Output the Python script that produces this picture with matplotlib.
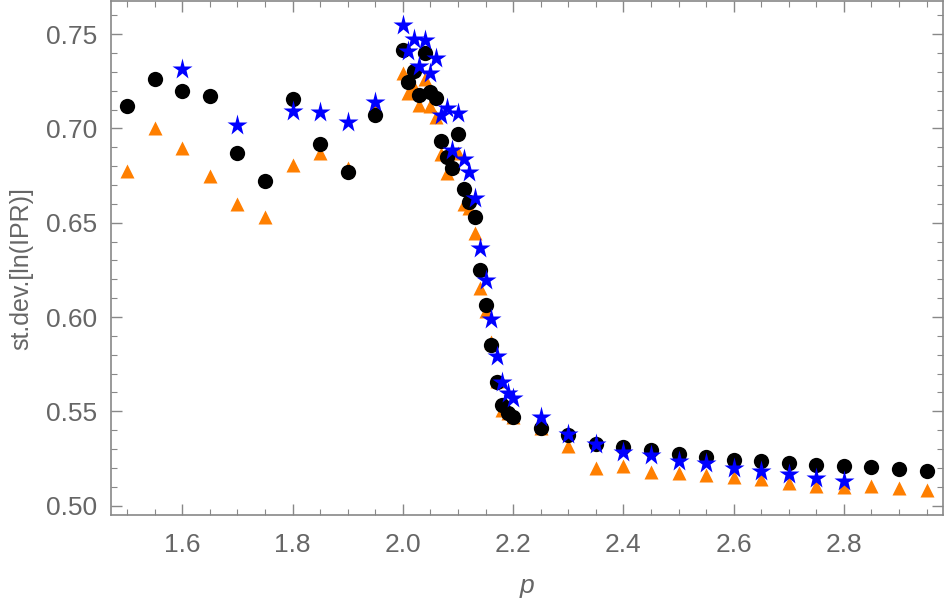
import numpy as np
import matplotlib
matplotlib.use("Agg")
import matplotlib.pyplot as plt
from matplotlib.ticker import MultipleLocator

plt.rcParams['font.family'] = ['Liberation Sans', 'DejaVu Sans']

# coarse grid + fine grid near the transition
p_lo = [1.50, 1.55, 1.60, 1.65, 1.70, 1.75, 1.80, 1.85, 1.90, 1.95]
p_mid = [2.00, 2.01, 2.02, 2.03, 2.04, 2.05, 2.06, 2.07, 2.08, 2.09, 2.10,
         2.11, 2.12, 2.13, 2.14, 2.15, 2.16, 2.17, 2.18, 2.19, 2.20]
p_hi = [2.25, 2.30, 2.35, 2.40, 2.45, 2.50, 2.55, 2.60, 2.65, 2.70, 2.75,
        2.80, 2.85, 2.90, 2.95]

p_black = p_lo + p_mid + p_hi
sd_black = [0.712, 0.726, 0.720, 0.717, 0.687, 0.672, 0.7155, 0.692, 0.677, 0.707,
            0.7415, 0.7247, 0.7305, 0.7178, 0.7403, 0.7194, 0.7164, 0.6934, 0.685, 0.679, 0.697,
            0.668, 0.661, 0.6533, 0.6252, 0.6063, 0.5851, 0.5653, 0.5533, 0.5489, 0.5468,
            0.541, 0.5374, 0.5324, 0.5312, 0.5294, 0.5271, 0.5256, 0.5241, 0.5236, 0.5227,
            0.5215, 0.5209, 0.5203, 0.5194, 0.5185]

p_orange = p_lo + p_mid + p_hi
sd_orange = [0.6774, 0.7003, 0.6894, 0.6747, 0.6597, 0.6531, 0.6805, 0.6871, 0.679, 0.7106,
             0.7292, 0.7186, 0.722, 0.7124, 0.7265, 0.7118, 0.7062, 0.6864, 0.6765, 0.680, 0.6871,
             0.660, 0.658, 0.6443, 0.6152, 0.603, 0.587, 0.566, 0.5506, 0.549, 0.547,
             0.541, 0.5315, 0.520, 0.5211, 0.5179, 0.5174, 0.5162, 0.5153, 0.514, 0.5121,
             0.5103, 0.510, 0.5103, 0.5091, 0.5082]

p_blue = [1.60, 1.70, 1.80, 1.85, 1.90, 1.95] + p_mid + p_hi[:-3]
sd_blue = [0.7318, 0.7016, 0.7095, 0.7086, 0.7033, 0.714,
           0.7551, 0.7411, 0.7473, 0.733, 0.7468, 0.7295, 0.7376, 0.707, 0.7111, 0.6885, 0.708,
           0.684, 0.677, 0.6629, 0.6364, 0.6199, 0.5987, 0.5793, 0.5655, 0.5595, 0.5568,
           0.5468, 0.5378, 0.5327, 0.5285, 0.5268, 0.5238, 0.5224, 0.5197, 0.5183, 0.5165,
           0.5144, 0.5132]

gray = "#666666"

fig = plt.figure(figsize=(9.46, 6.07), dpi=100)
ax = fig.add_axes([0.117, 0.1516, 0.88, 0.847])

ax.plot(p_orange, sd_orange, ls="none", marker="^", ms=9.5, color="#FF7F00", mec="none")
ax.plot(p_black, sd_black, ls="none", marker="o", ms=11, color="black", mec="none")
ax.plot(p_blue, sd_blue, ls="none", marker="*", ms=15.5, color="#0000FF", mec="none")

ax.set_xlim(1.47, 2.98)
ax.set_ylim(0.495, 0.7677)

ax.xaxis.set_major_locator(MultipleLocator(0.2))
ax.xaxis.set_minor_locator(MultipleLocator(0.05))
ax.yaxis.set_major_locator(MultipleLocator(0.05))
ax.yaxis.set_minor_locator(MultipleLocator(0.01))
ax.xaxis.set_major_formatter(plt.FuncFormatter(lambda v, _: f"{v:.1f}"))
ax.yaxis.set_major_formatter(plt.FuncFormatter(lambda v, _: f"{v:.2f}"))

ax.tick_params(which="both", direction="in", top=True, right=True,
               color="#888888", labelcolor=gray, labelsize=19)
ax.tick_params(axis="x", which="major", length=8, width=1, pad=13)
ax.tick_params(axis="y", which="major", length=8, width=1, pad=10)
ax.tick_params(which="minor", length=4.5, width=0.8)
for s in ax.spines.values():
    s.set_color("#888888")
    s.set_linewidth(1.2)

ax.set_xlabel("p", fontsize=19, color=gray, style="italic", labelpad=12)
ax.set_ylabel("st.dev.[ln(IPR)]", fontsize=18, color=gray)
ax.yaxis.set_label_coords(-0.093, 0.48)

fig.savefig("out.png", dpi=100)
